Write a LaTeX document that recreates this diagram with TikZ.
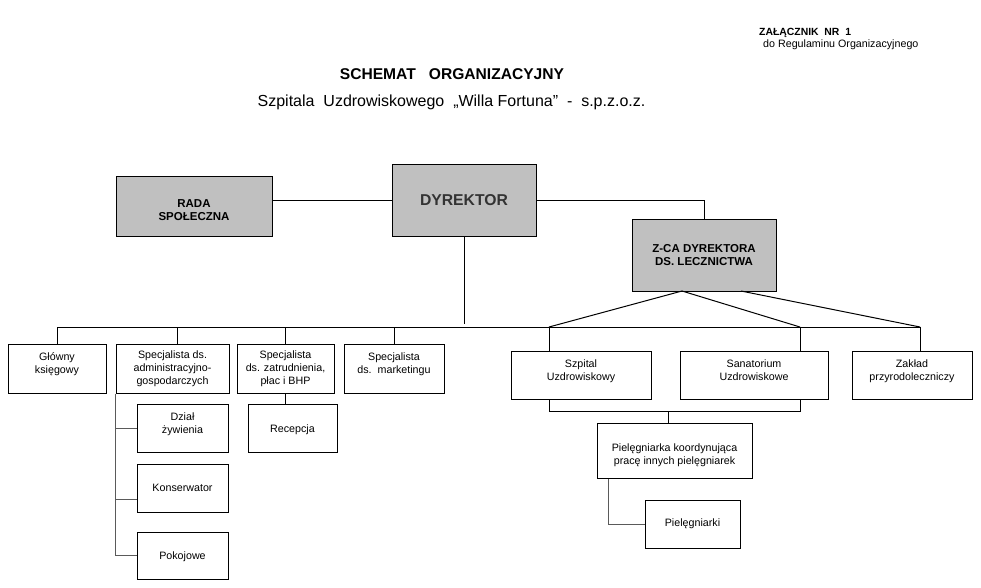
\documentclass[tikz,border=0pt]{standalone}
\usepackage{fontspec}
\setmainfont{Liberation Sans}

\definecolor{boxgray}{HTML}{C0C0C0}
\definecolor{subline}{HTML}{5A5A5A}
\newcommand{\fsmall}{\fontsize{10.7}{13}\selectfont}
\newcommand{\fbold}{\fontsize{11.5}{13}\selectfont\bfseries}

\begin{document}
\begin{tikzpicture}[x=1pt,y=-1pt,
  unit/.style={draw, line width=1pt, inner sep=0pt, align=center, font=\fsmall},
  head/.style={unit, fill=boxgray, font=\fbold},
  toptext/.style={anchor=north, inner sep=0pt, yshift=#1, align=center, font=\fsmall},
  toptext/.default=-9pt,
  conn/.style={line width=1pt},
  subconn/.style={line width=1pt, draw=subline}]
\useasboundingbox (0,0) rectangle (981,587);
% header
\node[inner sep=0pt, anchor=west, font=\fontsize{10.4}{12}\selectfont\bfseries] (zal) at (759,33) {ZAŁĄCZNIK\ \ NR\ \ 1};
\node[inner sep=0pt, anchor=west, font=\fontsize{10.7}{12}\selectfont] (regul) at (763,45) {do Regulaminu Organizacyjnego};
\node[inner sep=0pt, font=\fontsize{15.6}{18}\selectfont\bfseries] (title) at (452,74) {SCHEMAT\ \ \ ORGANIZACYJNY};
\node[inner sep=0pt, font=\fontsize{16}{19}\selectfont] (subtitle) at (451.5,102) {Szpitala\ \ Uzdrowiskowego\ \ „Willa Fortuna”\ \ -\ \ s.p.z.o.z.};
% management
\node[head, minimum width=156pt, minimum height=60pt, label={[toptext=-24pt, font=\fbold]north:{RADA\\SPOŁECZNA}}] (rada) at (194,206) {};
\node[head, minimum width=144pt, minimum height=72pt, font=\fontsize{15.7}{18}\selectfont\bfseries, text=black!80] (dyr) at (464,200) {DYREKTOR};
\node[head, minimum width=144pt, minimum height=72pt] (zca) at (704,255) {Z-CA DYREKTORA\\DS. LECZNICTWA};
% first row
\node[unit, minimum width=98pt, minimum height=49pt, label={[toptext]north:{Główny\\księgowy}}] (glowny) at (57,368.5) {};
\node[unit, minimum width=113pt, minimum height=49pt] (admin) at (172.5,368.5) {Specjalista ds.\\administracyjno-\\gospodarczych};
\node[unit, minimum width=97pt, minimum height=49pt] (zatr) at (285.5,368.5) {Specjalista\\ds. zatrudnienia,\\płac i BHP};
\node[unit, minimum width=100pt, minimum height=49pt, label={[toptext]north:{Specjalista\\ds.\ \ marketingu}}] (market) at (394,368.5) {};
\node[unit, minimum width=140pt, minimum height=48pt, label={[toptext]north:{Szpital\\Uzdrowiskowy}}] (szpital) at (581,375) {};
\node[unit, minimum width=148pt, minimum height=48pt, label={[toptext]north:{Sanatorium\\Uzdrowiskowe}}] (sanat) at (754,375) {};
\node[unit, minimum width=120pt, minimum height=48pt, label={[toptext]north:{Zakład\\przyrodoleczniczy}}] (zaklad) at (912,375) {};
% lower units
\node[unit, minimum width=91pt, minimum height=48pt, label={[toptext]north:{Dział\\żywienia}}] (zyw) at (182.5,428) {};
\node[unit, minimum width=91pt, minimum height=48pt, label={[toptext=-20pt]north:Konserwator}] (kons) at (182.5,488) {};
\node[unit, minimum width=91pt, minimum height=47pt, label={[toptext=-20pt]north:Pokojowe}] (pokoj) at (182.5,555.5) {};
\node[unit, minimum width=89pt, minimum height=48pt, label={[toptext=-21pt]north:Recepcja}] (recep) at (292.5,428) {};
\node[unit, minimum width=155pt, minimum height=55pt, label={[toptext=-21pt]north:{Pielęgniarka koordynująca\\pracę innych pielęgniarek}}] (koord) at (674.5,450.5) {};
\node[unit, minimum width=95pt, minimum height=48pt] (piel) at (692.5,524) {Pielęgniarki};
% junctions
\coordinate (busW) at (57,327);
\coordinate (busE) at (920,327);
\coordinate (dyrEnd) at (464,324);
\coordinate (zcaL) at (682,291);
\coordinate (zcaR) at (741,291);
\coordinate (dropS) at (549,327);
\coordinate (dropZ) at (800,327);
\coordinate (brL) at (549,411);
\coordinate (brR) at (800,411);
\coordinate (brM) at (668,411);
% connectors
\draw[conn] (dyr.west) -- (dyr.west -| rada.east);
\draw[conn] (dyr.east) -| (zca.north);
\draw[conn] (dyr.south) -- (dyrEnd);
\draw[conn] (busW) -- (busE);
\draw[conn] (glowny.north) -- (glowny.north |- busW);
\draw[conn] ([xshift=4.5pt]admin.north) -- ([xshift=4.5pt]admin.north |- busW);
\draw[conn] (zatr.north) -- (zatr.north |- busW);
\draw[conn] (market.north) -- (market.north |- busW);
\draw[conn] (dropS) -- (zcaL) -- (dropZ);
\draw[conn] (zcaR) -- (busE);
\draw[conn] (dropS) -- (dropS |- szpital.north);
\draw[conn] (dropZ) -- (dropZ |- sanat.north);
\draw[conn] (busE) -- (busE |- zaklad.north);
\draw[conn] (brL |- szpital.south) -- (brL) -- (brR) -- (brR |- sanat.south);
\draw[conn] (brM) -- (brM |- koord.north);
\draw[conn] (zatr.south) -- (zatr.south |- recep.north);
\draw[subconn] (admin.south west) |- (pokoj.west);
\draw[subconn] (zyw.west) -- (zyw.west -| admin.west);
\draw[subconn] ([yshift=-11pt]kons.west) -- ([yshift=-11pt]kons.west -| admin.west);
\draw[subconn] ([xshift=-66.5pt]koord.south) |- (piel.west);
\end{tikzpicture}
\end{document}
